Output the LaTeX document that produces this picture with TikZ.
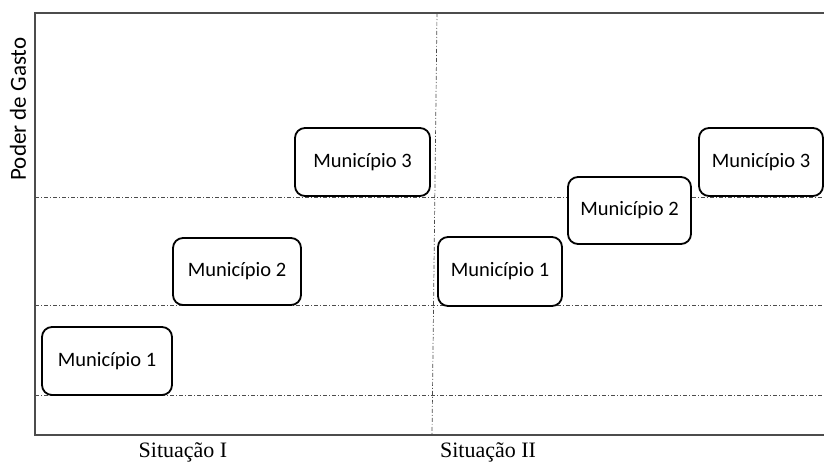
\documentclass[tikz,border=0pt]{standalone}
\usepackage{fontspec}
\setmainfont{Carlito}
\newfontfamily\serifface{Liberation Serif}
\begin{document}
\begin{tikzpicture}[x=1pt,y=-1pt,
  mbox/.style={draw=black,line width=1.8pt,rounded corners=10pt,fill=white,inner sep=0pt,font=\fontsize{20.5}{24}\selectfont},
  grid/.style={draw=black!70,line width=0.7pt,dash pattern=on 4pt off 2pt on 1pt off 2pt},
  frame/.style={draw=black!70,line width=1.3pt}]
\useasboundingbox (0,0) rectangle (824,463);
% grid lines
\draw[grid] (35,197) -- (824,197);
\draw[grid] (35,305) -- (824,305);
\draw[grid] (35,395) -- (824,395);
\draw[grid] (437,13) -- (432,435);
% frame
\draw[frame] (824,13) -- (35,13) -- (35,435) -- (824,435);
% boxes
\node[mbox,minimum width=130pt,minimum height=68pt] (a1) at (107,361) {Município 1};
\node[mbox,minimum width=128pt,minimum height=67pt] (a2) at (237,271.5) {Município 2};
\node[mbox,minimum width=135pt,minimum height=68pt] (a3) at (362.5,162) {Município 3};
\node[mbox,minimum width=124pt,minimum height=69pt] (b1) at (500,271.5) {Município 1};
\node[mbox,minimum width=123pt,minimum height=67pt] (b2) at (629.5,210.5) {Município 2};
\node[mbox,minimum width=124pt,minimum height=68pt] (b3) at (761,162) {Município 3};
% labels
\node[rotate=90,font=\fontsize{23}{26}\selectfont] (yl) at (18,109) {Poder de Gasto};
\node[font=\serifface\fontsize{22}{24}\selectfont] (s1) at (183,452) {Situação I};
\node[font=\serifface\fontsize{22}{24}\selectfont] (s2) at (488,452) {Situação II};
\end{tikzpicture}
\end{document}
